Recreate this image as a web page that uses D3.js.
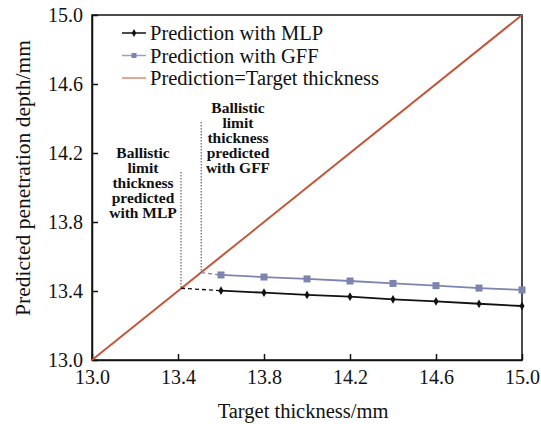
<!DOCTYPE html>
<html>
<head>
<meta charset="utf-8">
<script src="https://cdn.jsdelivr.net/npm/d3@7"></script>
<style>
  body { margin: 0; background: #fff; }
  svg text { font-family: "Liberation Serif", "Times New Roman", serif; fill: #111; }
</style>
</head>
<body>
<div id="chart"></div>
<script>
var w = 541;
var h = 424;
var margin = { top: 15, right: 19, bottom: 64, left: 92 };

// data
var thickness = [13.6, 13.8, 14.0, 14.2, 14.4, 14.6, 14.8, 15.0];
var mlp = [13.402, 13.39, 13.377, 13.367, 13.352, 13.34, 13.326, 13.313];
var gff = [13.493, 13.481, 13.47, 13.458, 13.444, 13.431, 13.417, 13.406];
var mlpLimit = [13.414, 13.416];
var gffLimit = [13.508, 13.506];
var targetLine = [13.0, 15.0];
var tickValues = [13.0, 13.4, 13.8, 14.2, 14.6, 15.0];
var legendLabels = ["Prediction with MLP", "Prediction with GFF", "Prediction=Target thickness"];
var mlpNote = ["Ballistic", "limit", "thickness", "predicted", "with MLP"];
var gffNote = ["Ballistic", "limit", "thickness", "predicted", "with GFF"];

var colMlp = "#111111";
var colGff = "#7d84ad";
var colTarget = "#c2583a";

var svg = d3.select("#chart").append("svg").attr("width", w).attr("height", h);

var xScale = d3.scaleLinear().domain([13, 15]).range([margin.left, w - margin.right]);
var yScale = d3.scaleLinear().domain([13, 15]).range([h - margin.bottom, margin.top]);

// frame
svg.append("rect")
  .attr("x", xScale(13)).attr("y", yScale(15))
  .attr("width", xScale(15) - xScale(13)).attr("height", yScale(13) - yScale(15))
  .attr("fill", "none").attr("stroke", "#111").attr("stroke-width", 1.5);

// axes (ticks inside)
var xAxis = svg.append("g")
  .attr("transform", "translate(0," + yScale(13) + ")")
  .call(d3.axisBottom(xScale).tickValues(tickValues).tickSizeInner(-6).tickSizeOuter(0).tickPadding(10)
    .tickFormat(d3.format(".1f")));
xAxis.select(".domain").attr("stroke", "#111").attr("stroke-width", 1.5);
xAxis.selectAll("line").attr("stroke", "#111").attr("stroke-width", 1.5);
xAxis.selectAll("text").style("font-size", "20px").attr("font-family", null);

var yAxis = svg.append("g")
  .attr("transform", "translate(" + xScale(13) + ",0)")
  .call(d3.axisLeft(yScale).tickValues(tickValues).tickSizeInner(-6).tickSizeOuter(0).tickPadding(9)
    .tickFormat(d3.format(".1f")));
yAxis.select(".domain").attr("stroke", "#111").attr("stroke-width", 1.5);
yAxis.selectAll("line").attr("stroke", "#111").attr("stroke-width", 1.5);
yAxis.selectAll("text").style("font-size", "20px").attr("font-family", null);

// axis titles
svg.append("text")
  .attr("x", 303).attr("y", 418)
  .attr("text-anchor", "middle").style("font-size", "20.5px")
  .text("Target thickness/mm");
svg.append("text")
  .attr("transform", "translate(30,178) rotate(-90)")
  .attr("text-anchor", "middle").style("font-size", "21.5px")
  .text("Predicted penetration depth/mm");

// prediction = target line
svg.append("line")
  .attr("x1", xScale(targetLine[0])).attr("y1", yScale(targetLine[0]))
  .attr("x2", xScale(targetLine[1])).attr("y2", yScale(targetLine[1]))
  .attr("stroke", colTarget).attr("stroke-width", 2);

// vertical dotted guides
[[mlpLimit, 14.09], [gffLimit, 14.38]].forEach(function(g) {
  svg.append("line")
    .attr("x1", xScale(g[0][0])).attr("x2", xScale(g[0][0]))
    .attr("y1", yScale(g[1])).attr("y2", yScale(g[0][1]))
    .attr("stroke", "#666").attr("stroke-width", 1.2).attr("stroke-dasharray", "1.5,1.5");
});

// dashed extensions
svg.append("line")
  .attr("x1", xScale(mlpLimit[0])).attr("y1", yScale(mlpLimit[1]))
  .attr("x2", xScale(thickness[0])).attr("y2", yScale(mlp[0]))
  .attr("stroke", colMlp).attr("stroke-width", 1.3).attr("stroke-dasharray", "4,3");
svg.append("line")
  .attr("x1", xScale(gffLimit[0])).attr("y1", yScale(gffLimit[1]))
  .attr("x2", xScale(thickness[0])).attr("y2", yScale(gff[0]))
  .attr("stroke", colGff).attr("stroke-width", 1.3).attr("stroke-dasharray", "4,3");

var line = d3.line()
  .x(function(d) { return xScale(d[0]); })
  .y(function(d) { return yScale(d[1]); });

var gffPts = d3.zip(thickness, gff);
var mlpPts = d3.zip(thickness, mlp);

svg.append("path").datum(gffPts).attr("d", line)
  .attr("fill", "none").attr("stroke", colGff).attr("stroke-width", 1.8);
svg.append("g").selectAll("rect").data(gffPts).enter().append("rect")
  .attr("x", function(d) { return xScale(d[0]) - 3.5; })
  .attr("y", function(d) { return yScale(d[1]) - 3.5; })
  .attr("width", 7).attr("height", 7).attr("fill", colGff);

svg.append("path").datum(mlpPts).attr("d", line)
  .attr("fill", "none").attr("stroke", colMlp).attr("stroke-width", 1.8);
svg.append("g").selectAll("path").data(mlpPts).enter().append("path")
  .attr("transform", function(d) { return "translate(" + xScale(d[0]) + "," + yScale(d[1]) + ")"; })
  .attr("d", d3.symbol().type(d3.symbolDiamond).size(22))
  .attr("fill", colMlp);

// annotations
function note(lines, cx, top) {
  var t = svg.append("text").attr("text-anchor", "middle").style("font-size", "15.5px").style("font-weight", "bold");
  lines.forEach(function(s, i) {
    t.append("tspan").attr("x", cx).attr("y", top + i * 15).text(s);
  });
}
note(mlpNote, 143, 158);
note(gffNote, 238, 113);

// legend
var legendColors = [colMlp, "#9aa0c6", "#d98a72"];
var lg = svg.append("g");
legendLabels.forEach(function(s, i) {
  var y = 33 + i * 22.5;
  lg.append("line").attr("x1", 122).attr("x2", 146).attr("y1", y).attr("y2", y)
    .attr("stroke", legendColors[i]).attr("stroke-width", 1.5);
  if (i === 0) {
    lg.append("path").attr("transform", "translate(134," + y + ")")
      .attr("d", d3.symbol().type(d3.symbolDiamond).size(18)).attr("fill", colMlp);
  } else if (i === 1) {
    lg.append("rect").attr("x", 131.5).attr("y", y - 2.5).attr("width", 5).attr("height", 5).attr("fill", colGff);
  }
  lg.append("text").attr("x", 150).attr("y", y + 7).style("font-size", "20.5px").text(s);
});
</script>
</body>
</html>
